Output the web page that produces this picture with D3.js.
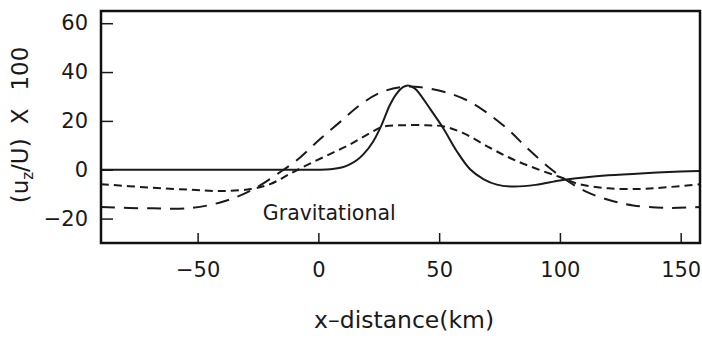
<!DOCTYPE html>
<html>
<head>
<meta charset="utf-8">
<script src="https://cdn.jsdelivr.net/npm/d3@7"></script>
<style>
  body { margin: 0; background: #fff; }
  text { font-family: "DejaVu Sans", sans-serif; fill: #1a1a1a; }
</style>
</head>
<body>
<script>
const width = 702;
const height = 344;
const margin = { top: 11, right: 2, bottom: 101, left: 101 };

// curves
const solidX = [-90, -60, -30, -10, 0, 5, 10, 13, 16, 18.6, 22.7, 26.2, 29.6, 32.4, 35, 37.2, 40, 42, 46.2, 51.7, 57.3, 62.8, 68.3, 73.9, 80.8, 90, 100, 110, 120, 135, 150, 158];
const solidY = [0, 0, 0, 0, 0, 0.2, 1, 2.2, 4, 6.3, 11.6, 18.4, 26.5, 31.2, 33.8, 34.5, 33.2, 31, 25, 17, 7.6, 0.2, -3.8, -6.1, -6.9, -6.2, -4.4, -3.2, -2.3, -1.4, -0.7, -0.5];

const shortX = [-90, -70, -53, -40, -28, -20, -12, -3.5, 5, 13, 21.3, 27, 35, 45, 52, 60, 71, 80, 90, 100, 108, 120, 133, 144, 158];
const shortY = [-5.9, -7.3, -8.2, -8.7, -7.9, -5.9, -1.8, 2.5, 6.5, 10.3, 15, 17.7, 18.2, 18.2, 17.7, 15, 9, 4.5, 0.5, -3, -5.9, -7.6, -7.9, -7.2, -5.9];

const longX = [-90, -70, -53, -41, -32.5, -24.3, -16, -7.7, 0.6, 8.9, 17.2, 25.5, 33.8, 40, 46.2, 54.5, 62.8, 71.1, 79.4, 86.3, 96, 103, 111.3, 121, 130.4, 144.4, 158];
const longY = [-15.3, -15.8, -15.7, -13.5, -10.6, -6.5, -1.1, 4.9, 12.5, 19.5, 26.5, 31.5, 33.8, 34, 33.2, 31.2, 27.8, 22.4, 15.7, 9, 0.5, -4.5, -9.2, -12.6, -14.6, -15.6, -15.3];

const xTicks = [-50, 0, 50, 100, 150];
const yTicks = [-20, 0, 20, 40, 60];
const xDomain = [-90, 158];
const yDomain = [-30, 65];

const svg = d3
  .select("body")
  .append("svg")
  .attr("width", width)
  .attr("height", height);

const x = d3.scaleLinear().domain(xDomain).range([margin.left, width - margin.right]);
const y = d3.scaleLinear().domain(yDomain).range([height - margin.bottom, margin.top]);

const fmt = (d) => (d < 0 ? "\u2212" + Math.abs(d) : d);

// X-Axis (ticks point inward)
const xAxis = svg
  .append("g")
  .attr("transform", `translate(0, ${height - margin.bottom})`)
  .call(d3.axisBottom(x).tickValues(xTicks).tickSizeInner(-10).tickSizeOuter(0).tickPadding(19).tickFormat(fmt));
xAxis.select(".domain").remove();
xAxis.selectAll("line").attr("stroke", "#1a1a1a").attr("stroke-width", 1.5);
xAxis.selectAll("text").attr("font-size", 21).attr("fill", "#1a1a1a").attr("font-family", "DejaVu Sans, sans-serif");

// Y-Axis
const yAxis = svg
  .append("g")
  .attr("transform", `translate(${margin.left}, 0)`)
  .call(d3.axisLeft(y).tickValues(yTicks).tickSizeInner(-12).tickSizeOuter(0).tickPadding(13).tickFormat(fmt));
yAxis.select(".domain").remove();
yAxis.selectAll("line").attr("stroke", "#1a1a1a").attr("stroke-width", 1.5);
yAxis.selectAll("text").attr("font-size", 21).attr("fill", "#1a1a1a").attr("font-family", "DejaVu Sans, sans-serif");

// Curves
const line = d3.line().x((d) => x(d[0])).y((d) => y(d[1])).curve(d3.curveCatmullRom);

const series = [
  { xs: solidX, ys: solidY, dash: null },
  { xs: shortX, ys: shortY, dash: "8,5" },
  { xs: longX, ys: longY, dash: "14,9" },
];

svg
  .selectAll(".curve")
  .data(series)
  .enter()
  .append("path")
  .attr("class", "curve")
  .attr("d", (s) => line(s.xs.map((v, i) => [v, s.ys[i]])))
  .attr("fill", "none")
  .attr("stroke", "#1a1a1a")
  .attr("stroke-width", 2)
  .attr("stroke-dasharray", (s) => s.dash);

// Frame
svg
  .append("rect")
  .attr("x", x(xDomain[0]))
  .attr("y", y(yDomain[1]))
  .attr("width", x(xDomain[1]) - x(xDomain[0]))
  .attr("height", y(yDomain[0]) - y(yDomain[1]))
  .attr("fill", "none")
  .attr("stroke", "#111")
  .attr("stroke-width", 2.5);

// Labels
svg
  .append("text")
  .attr("x", x(-23))
  .attr("y", y(-20) + 1)
  .attr("font-size", 20.5)
  .text("Gravitational");

svg
  .append("text")
  .attr("x", x(35.5))
  .attr("y", 328)
  .attr("text-anchor", "middle")
  .attr("font-size", 23.5)
  .text("x\u2013distance(km)");

const yTitle = svg
  .append("text")
  .attr("transform", "translate(28, 125) rotate(-90)")
  .attr("text-anchor", "middle")
  .attr("font-size", 23);
yTitle.append("tspan").text("(u");
yTitle.append("tspan").attr("font-size", 15).attr("dy", 5).text("z");
yTitle.append("tspan").attr("dy", -5).text("/U)");
yTitle.append("tspan").attr("dx", 14).text("X");
yTitle.append("tspan").attr("dx", 18).text("100");
</script>
</body>
</html>
